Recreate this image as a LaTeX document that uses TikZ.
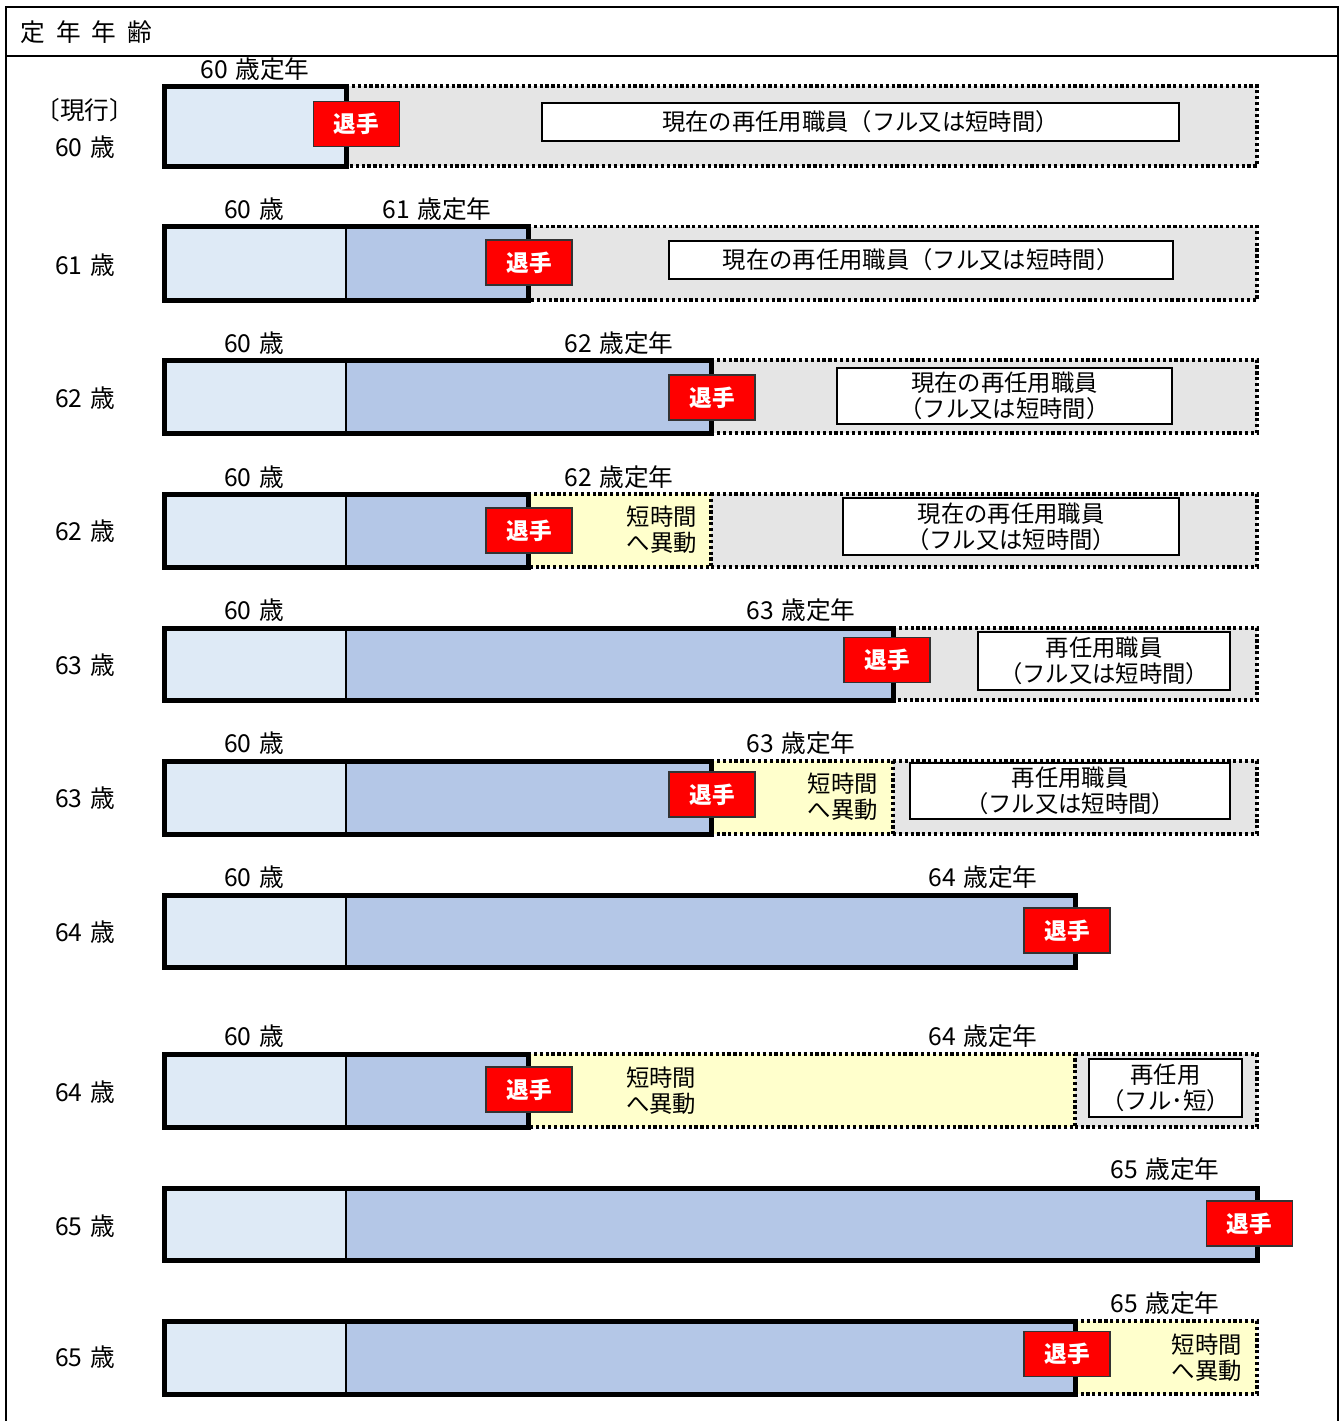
\documentclass[tikz,border=0pt]{standalone}
\usepackage{fontspec}
\newfontfamily\jp{Noto Sans CJK JP}
\definecolor{lbc}{HTML}{DEEAF6}
\definecolor{mbc}{HTML}{B4C7E7}
\definecolor{grc}{HTML}{E5E5E5}
\definecolor{ylc}{HTML}{FFFFCC}
\newcommand\solidbar[3]{%
  \fill[lbc] (164,#1) rectangle (346,#2);
  \fill[mbc] (346,#1) rectangle (#3,#2);
  \draw[line width=1.5pt] (346,#1) -- (346,#2);
  \draw[barborder] (164,#1) rectangle (#3,#2);}
\newcommand\dotregion[5]{%
  \fill[#5] (#1,#3) rectangle (#2,#4);
  \draw[dotline] (#1,#3) -- (#2,#3) -- (#2,#4) -- (#1,#4);}
\newcommand\sai[1]{#1\hspace{0.3em}歳}
\begin{document}
\begin{tikzpicture}[x=0.75pt,y=-0.75pt,
  txt/.style={font=\jp\fontsize{17.5}{19.5}\selectfont, inner sep=0pt},
  big/.style={font=\jp\fontsize{18.5}{19.5}\selectfont, inner sep=0pt},
  taishu/.style={draw=black!80, line width=1.1pt, fill=red, text=white,
    font=\jp\bfseries\fontsize{17}{20}\selectfont, minimum width=64.5pt,
    minimum height=33.75pt, inner sep=0pt},
  wbox/.style={draw=black, line width=1.5pt, fill=white, txt, align=center},
  dotline/.style={line width=2.5pt, dash pattern=on 2.4pt off 2pt},
  barborder/.style={line width=3.75pt},
]
\useasboundingbox (0,0) rectangle (1342,1421);
\fill[white] (0,0) rectangle (1342,1421);
% frame
\draw[line width=1.5pt] (6,1421) -- (6,7) -- (1338,7) -- (1338,1421);
\draw[line width=1.5pt] (6,56) -- (1338,56);
\node[big, anchor=west] (title) at (20,32) {定\hspace{0.45em}年\hspace{0.45em}年\hspace{0.45em}齢};

% ---------- dotted regions ----------
\dotregion{346}{1257}{86}{166}{grc}
\dotregion{528}{1257}{226.5}{300}{grc}
\dotregion{711}{1257}{360}{433}{grc}
\dotregion{711}{1257}{494}{567}{grc}
\dotregion{528}{711}{494}{567}{ylc}
\dotregion{893}{1257}{628}{700}{grc}
\dotregion{893}{1257}{761}{834}{grc}
\dotregion{711}{893}{761}{834}{ylc}
\dotregion{1075}{1257}{1054}{1127}{grc}
\dotregion{528}{1075}{1054}{1127}{ylc}
\dotregion{1075}{1257}{1321}{1394}{ylc}

% ---------- solid bars ----------
\solidbar{86}{166}{346}
\solidbar{226.5}{300}{528}
\solidbar{360}{433}{711}
\solidbar{494}{567}{528}
\solidbar{628}{700}{893}
\solidbar{761}{834}{711}
\solidbar{895}{967}{1075}
\solidbar{1054}{1127}{528}
\solidbar{1188}{1260}{1257}
\solidbar{1321}{1394}{1075}

% ---------- left labels ----------
\node[big] (l1a) at (85,110) {〔現行〕};
\node[big] (l1b) at (85,147) {\sai{60}};
\node[big] (l2) at (85,265) {\sai{61}};
\node[big] (l3) at (85,398) {\sai{62}};
\node[big] (l4) at (85,531) {\sai{62}};
\node[big] (l5) at (85,665) {\sai{63}};
\node[big] (l6) at (85,798) {\sai{63}};
\node[big] (l7) at (85,932) {\sai{64}};
\node[big] (l8) at (85,1092) {\sai{64}};
\node[big] (l9) at (85,1226) {\sai{65}};
\node[big] (l10) at (85,1357) {\sai{65}};

% ---------- labels above bars ----------
\node[big] (t1) at (255,69) {\sai{60}定年};
\node[big] (s2) at (254,209) {\sai{60}};
\node[big] (t2) at (437,209) {\sai{61}定年};
\node[big] (s3) at (254,343) {\sai{60}};
\node[big] (t3) at (619,343) {\sai{62}定年};
\node[big] (s4) at (254,477) {\sai{60}};
\node[big] (t4) at (619,477) {\sai{62}定年};
\node[big] (s5) at (254,610) {\sai{60}};
\node[big] (t5) at (801,610) {\sai{63}定年};
\node[big] (s6) at (254,743) {\sai{60}};
\node[big] (t6) at (801,743) {\sai{63}定年};
\node[big] (s7) at (254,877) {\sai{60}};
\node[big] (t7) at (983,877) {\sai{64}定年};
\node[big] (s8) at (254,1036) {\sai{60}};
\node[big] (t8) at (983,1036) {\sai{64}定年};
\node[big] (t9) at (1165,1169) {\sai{65}定年};
\node[big] (t10) at (1165,1303) {\sai{65}定年};

% ---------- 短時間へ異動 ----------
\node[txt, align=right, anchor=east] (y4) at (697,530) {短時間\\へ異動};
\node[txt, align=right, anchor=east] (y6) at (878,797) {短時間\\へ異動};
\node[txt, align=left, anchor=west] (y8) at (626,1091) {短時間\\へ異動};
\node[txt, align=right, anchor=east] (y10) at (1242,1358) {短時間\\へ異動};

% ---------- white boxes ----------
\node[wbox, minimum width=637*0.75pt, minimum height=38*0.75pt] (w1) at (860.5,122) {現在の再任用職員（フル又は短時間）};
\node[wbox, minimum width=504*0.75pt, minimum height=38*0.75pt] (w2) at (921,260) {現在の再任用職員（フル又は短時間）};
\node[wbox, minimum width=335*0.75pt, minimum height=56*0.75pt] (w3) at (1004.5,396) {現在の再任用職員\\（フル又は短時間）};
\node[wbox, minimum width=336*0.75pt, minimum height=57*0.75pt] (w4) at (1011,526.5) {現在の再任用職員\\（フル又は短時間）};
\node[wbox, minimum width=252*0.75pt, minimum height=58*0.75pt] (w5) at (1104,661) {再任用職員\\（フル又は短時間）};
\node[wbox, minimum width=320*0.75pt, minimum height=56*0.75pt] (w6) at (1070,791) {再任用職員\\（フル又は短時間）};
\node[wbox, minimum width=153*0.75pt, minimum height=58*0.75pt] (w8) at (1165.5,1088) {再任用\\（フル･短）};

% ---------- 退手 ----------
\node[taishu] (r1) at (356.5,124) {退手};
\node[taishu] (r2) at (529,262.5) {退手};
\node[taishu] (r3) at (712,397.5) {退手};
\node[taishu] (r4) at (529,530.5) {退手};
\node[taishu] (r5) at (887,660) {退手};
\node[taishu] (r6) at (712,794.5) {退手};
\node[taishu] (r7) at (1067,930.5) {退手};
\node[taishu] (r8) at (529,1089.5) {退手};
\node[taishu] (r9) at (1249.5,1223.5) {退手};
\node[taishu] (r10) at (1067,1354) {退手};
\end{tikzpicture}
\end{document}
